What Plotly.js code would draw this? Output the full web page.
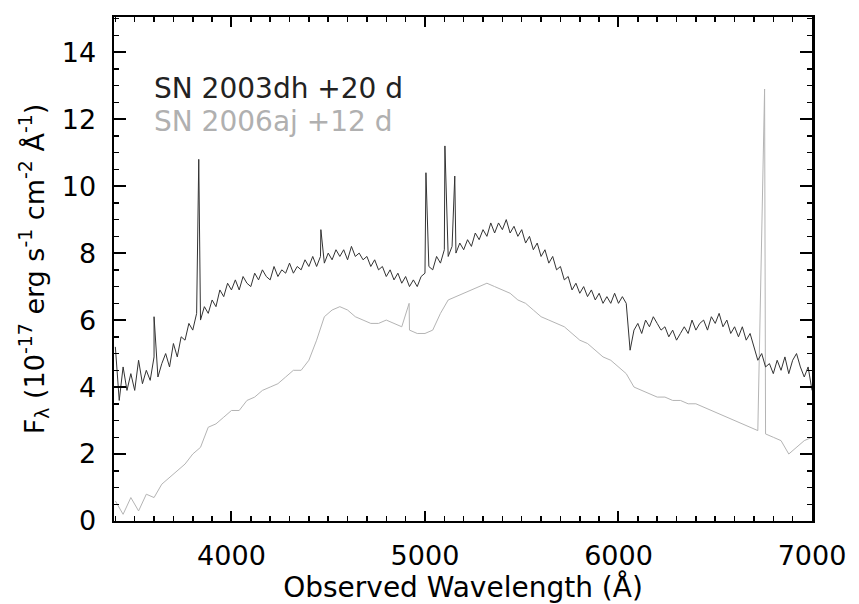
<!DOCTYPE html>
<html>
<head>
<meta charset="utf-8">
<script src="https://cdn.plot.ly/plotly-3.0.1.min.js"></script>
<style>html,body{margin:0;padding:0;background:#fff;}#chart{width:859px;height:604px;}</style>
</head>
<body>
<div id="chart"></div>
<script>
// SN 2003dh +20 d : sampled every 20 Å starting at 3400 Å
const dhStart = 3400, dhStep = 20;
const dhFlux = [
  5.2,3.6,4.6,3.9,4.4,3.9,4.8,4.1,4.5,4.2,
  4.9,4.3,4.7,5.0,4.6,5.3,4.9,5.5,5.4,5.9,
  5.7,6.2,6.0,6.4,6.2,6.6,6.4,6.9,6.7,7.1,
  6.9,7.2,6.9,7.3,7.1,7.0,7.4,7.2,7.5,7.3,
  7.2,7.6,7.3,7.5,7.4,7.7,7.4,7.6,7.5,7.8,
  7.6,7.9,7.6,7.9,7.7,8.0,7.8,8.1,7.9,8.1,
  7.8,8.2,7.9,8.0,7.8,7.9,7.6,7.8,7.5,7.6,
  7.3,7.5,7.2,7.4,7.1,7.3,7.0,7.2,7.0,7.3,
  7.4,7.6,7.5,7.9,7.7,8.1,7.9,8.2,8.0,8.3,
  8.1,8.4,8.2,8.6,8.4,8.7,8.5,8.9,8.6,8.9,
  8.7,9.0,8.6,8.8,8.5,8.7,8.3,8.5,8.1,8.3,
  7.9,8.1,7.7,7.9,7.5,7.6,7.2,7.3,6.9,7.1,
  6.8,7.0,6.7,6.9,6.6,6.8,6.5,6.7,6.5,6.8,
  6.5,6.7,6.5,5.1,5.7,5.9,5.6,6.0,5.8,6.1,
  5.9,5.7,5.8,5.5,5.7,5.4,5.6,5.8,5.6,6.0,
  5.7,5.9,6.0,5.7,6.1,5.9,6.2,5.8,6.0,5.6,
  5.8,5.5,5.8,5.4,5.6,5.2,4.8,5.0,4.6,4.7,
  4.4,4.8,4.5,4.9,4.4,4.8,5.0,4.6,4.3,4.6,
  3.9
];
const dhSpikeWl   = [3600, 3831, 4462, 5005, 5103, 5154];
const dhSpikeFlux = [6.1, 10.8, 8.7, 10.4, 11.2, 10.3];

// SN 2006aj +12 d : sampled every 40 Å starting at 3400 Å
const ajStart = 3400, ajStep = 40;
const ajFlux = [
  0.6,0.2,0.7,0.3,0.8,0.7,1.1,1.3,1.5,1.7,
  2.0,2.2,2.8,2.9,3.1,3.3,3.3,3.6,3.7,3.9,
  4.0,4.1,4.3,4.5,4.5,4.8,5.4,6.1,6.3,6.4,
  6.3,6.1,6.0,5.9,5.9,6.0,5.9,5.8,5.7,5.6,
  5.6,5.7,6.2,6.6,6.7,6.8,6.9,7.0,7.1,7.0,
  6.9,6.8,6.6,6.5,6.3,6.1,6.0,5.9,5.8,5.6,
  5.4,5.3,5.1,4.9,4.8,4.6,4.4,4.0,3.9,3.8,
  3.7,3.7,3.6,3.6,3.5,3.5,3.4,3.3,3.2,3.1,
  3.0,2.9,2.8,2.7,2.6,2.5,2.4,2.0,2.2,2.4,
  2.5
];
const ajSpikeWl   = [4918, 6755];
const ajSpikeFlux = [6.5, 12.9];

const xTickVals = [4000, 5000, 6000, 7000];
const yTickVals = [0, 2, 4, 6, 8, 10, 12, 14];
const label1 = "SN 2003dh +20 d";
const label2 = "SN 2006aj +12 d";

function build(start, step, flux, sWl, sFl) {
  const pts = flux.map((f, i) => [start + i * step, f]);
  sWl.forEach((w, i) => pts.push([w, sFl[i]]));
  pts.sort((a, b) => a[0] - b[0]);
  return {x: pts.map(p => p[0]), y: pts.map(p => p[1])};
}
const dh = build(dhStart, dhStep, dhFlux, dhSpikeWl, dhSpikeFlux);
const aj = build(ajStart, ajStep, ajFlux, ajSpikeWl, ajSpikeFlux);

const FONT = "DejaVu Sans, Arial, sans-serif";
const traces = [
  {x: aj.x, y: aj.y, type: 'scatter', mode: 'lines', line: {color: '#b4b4b4', width: 1}, name: label2, cliponaxis: true},
  {x: dh.x, y: dh.y, type: 'scatter', mode: 'lines', line: {color: '#333333', width: 1}, name: label1, cliponaxis: true}
];

const layout = {
  width: 859, height: 604,
  margin: {l: 114, r: 47, t: 17, b: 83},
  paper_bgcolor: '#fff', plot_bgcolor: '#fff',
  showlegend: false,
  font: {family: FONT, size: 27, color: '#000'},
  xaxis: {
    range: [3393, 7000], tickvals: xTickVals, ticktext: xTickVals.map(String),
    ticks: 'inside', ticklen: 10, tickwidth: 2, tickcolor: '#000',
    minor: {dtick: 100, tick0: 0, ticks: 'inside', ticklen: 5, tickwidth: 1.5, tickcolor: '#000'},
    showline: true, linecolor: '#000', linewidth: 2, mirror: 'allticks',
    showgrid: false, zeroline: false,
    ticklabelstandoff: 10,
    tickfont: {family: FONT, size: 27, color: '#000'},
    title: {text: 'Observed Wavelength (Å)', font: {family: FONT, size: 28, color: '#000'}, standoff: 6}
  },
  yaxis: {
    range: [0, 15.05], tickvals: yTickVals, ticktext: yTickVals.map(String),
    ticks: 'inside', ticklen: 12, tickwidth: 2, tickcolor: '#000',
    minor: {dtick: 0.5, tick0: 0, ticks: 'inside', ticklen: 5, tickwidth: 1.5, tickcolor: '#000'},
    showline: true, linecolor: '#000', linewidth: 2.5, mirror: 'allticks',
    showgrid: false, zeroline: false,
    ticklabelstandoff: 10,
    tickfont: {family: FONT, size: 27, color: '#000'},
    title: {text: 'F<sub>λ</sub> (10<sup>-17</sup> erg s<sup>-1</sup> cm<sup>-2</sup> Å<sup>-1</sup>)', font: {family: FONT, size: 27, color: '#000'}, standoff: 10}
  },
  annotations: [
    {xref: 'paper', yref: 'paper', x: 0.054, y: 0.859, xanchor: 'left', yanchor: 'middle', showarrow: false,
     text: label1, font: {family: FONT, size: 28, color: '#222'}},
    {xref: 'paper', yref: 'paper', x: 0.054, y: 0.792, xanchor: 'left', yanchor: 'middle', showarrow: false,
     text: label2, font: {family: FONT, size: 28, color: '#b0b0b0'}}
  ]
};

Plotly.newPlot('chart', traces, layout, {displayModeBar: false, staticPlot: true});
</script>
</body>
</html>
